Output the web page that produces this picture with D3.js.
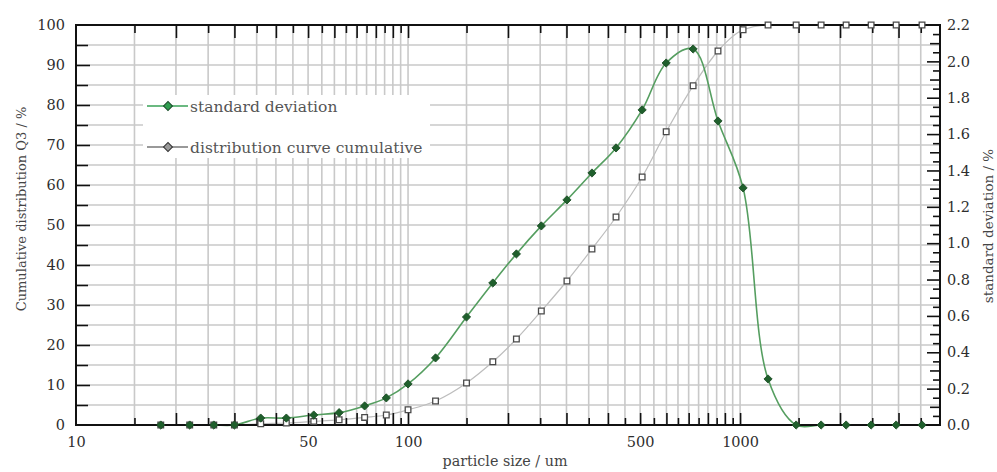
<!DOCTYPE html>
<html>
<head>
<meta charset="utf-8">
<script src="https://cdn.jsdelivr.net/npm/d3@7"></script>
<style>
  html, body { margin: 0; padding: 0; background: #fff; }
  svg { display: block; }
  text { font-family: "DejaVu Serif", serif; }
</style>
</head>
<body>
<svg id="chart" width="997" height="472"></svg>
<script>
// ---------------- data ----------------
const particleSizes = [18, 22, 26, 30, 36, 43, 52, 62, 74, 86, 100, 121, 150, 180, 212, 252, 301, 358, 423, 507, 599, 722, 858, 1021, 1214, 1475, 1754, 2086, 2481, 2951, 3531];
const standardDeviation = [0, 0, 0, 0, 0.038, 0.038, 0.055, 0.068, 0.105, 0.149, 0.226, 0.369, 0.594, 0.781, 0.941, 1.095, 1.238, 1.386, 1.524, 1.733, 1.991, 2.068, 1.672, 1.304, 0.253, 0, 0, 0, 0, 0, 0];
const cumulativeQ3 = [0, 0, 0, 0, 0.3, 0.5, 0.9, 1.3, 1.9, 2.5, 3.8, 6.0, 10.5, 15.8, 21.5, 28.5, 36, 44, 52, 62, 73.3, 84.8, 93.5, 98.8, 100, 100, 100, 100, 100, 100, 100];

const xTickLabels = [10, 50, 100, 500, 1000];
const xGridValues = [15, 20, 25, 30, 35, 40, 45, 50, 55, 60, 65, 70, 75, 80, 85, 90, 95, 100,
  150, 200, 250, 300, 350, 400, 450, 500, 550, 600, 650, 700, 750, 800, 850, 900, 950, 1000,
  1500, 2000, 2500, 3000, 3500];
const yLeftTicks = [0, 5, 10, 15, 20, 25, 30, 35, 40, 45, 50, 55, 60, 65, 70, 75, 80, 85, 90, 95, 100];
const yRightTicks = d3.range(0, 45).map(i => +(i * 0.05).toFixed(2));

const legendLabels = ["standard deviation", "distribution curve cumulative"];
const axisTitles = { x: "particle size / um", yLeft: "Cumulative distribution Q3 / %", yRight: "standard deviation / %" };

// ---------------- layout ----------------
const plotL = 76, plotR = 940, plotT = 25, plotB = 425;
const svg = d3.select("#chart");

const x = d3.scaleLog().domain([10, 4000]).range([plotL, plotR]);
const yL = d3.scaleLinear().domain([0, 100]).range([plotB, plotT]);
const yR = d3.scaleLinear().domain([0, 2.2]).range([plotB, plotT]);

const gridColor = "#c9c9c9";

// gridlines
svg.append("g").selectAll("line").data(xGridValues).join("line")
  .attr("x1", d => x(d)).attr("x2", d => x(d))
  .attr("y1", plotT).attr("y2", plotB)
  .attr("stroke", gridColor).attr("stroke-width", 1.6);
svg.append("g").selectAll("line").data(yLeftTicks.filter(d => d > 0 && d < 100)).join("line")
  .attr("x1", plotL).attr("x2", plotR)
  .attr("y1", d => yL(d)).attr("y2", d => yL(d))
  .attr("stroke", gridColor).attr("stroke-width", 1.6);

// legend background (hides gridlines)
svg.append("rect").attr("x", 143).attr("y", 95).attr("width", 287).attr("height", 63).attr("fill", "#fff");

// ---------------- curves ----------------
const cumData = particleSizes.map((s, i) => ({ s, v: cumulativeQ3[i] }));
const sdData = particleSizes.map((s, i) => ({ s, v: standardDeviation[i] }));

const cumLine = d3.line().x(d => x(d.s)).y(d => yL(d.v)).curve(d3.curveMonotoneX);
const sdLine = d3.line().x(d => x(d.s)).y(d => Math.min(yR(d.v), plotB)).curve(d3.curveCatmullRom.alpha(0.5));

svg.append("path").datum(cumData.concat([{ s: 4000, v: 100 }]).filter(d => d.s >= 30))
  .attr("d", cumLine).attr("fill", "none").attr("stroke", "#bdbdbd").attr("stroke-width", 1.2);
svg.append("path").datum(sdData)
  .attr("d", sdLine).attr("fill", "none").attr("stroke", "#559e60").attr("stroke-width", 1.6);

// ---------------- frame & axes ----------------
const isMajorX = d => { const p = Math.pow(10, Math.floor(Math.log10(d) + 1e-9)); return Math.abs(d / p - Math.round(d / p)) < 1e-6; };

const xAxisB = d3.axisBottom(x).tickValues(xGridValues.concat([10]))
  .tickSize(0).tickSizeOuter(0).tickPadding(12)
  .tickFormat(d => xTickLabels.includes(d) ? String(d) : "");
const gB = svg.append("g").attr("transform", `translate(0,${plotB})`).call(xAxisB);
gB.selectAll(".tick line").attr("y2", d => d === 10 ? 0 : (isMajorX(d) ? -12 : -7));

const xAxisT = d3.axisTop(x).tickValues(xGridValues).tickSize(0).tickSizeOuter(0).tickFormat("");
const gT = svg.append("g").attr("transform", `translate(0,${plotT})`).call(xAxisT);
gT.selectAll(".tick line").attr("y2", d => isMajorX(d) ? 13 : 8);

const yAxisL = d3.axisLeft(yL).tickValues(yLeftTicks).tickSize(0).tickSizeOuter(0).tickPadding(11)
  .tickFormat(d => d % 10 === 0 ? String(d) : "");
const gL = svg.append("g").attr("transform", `translate(${plotL},0)`).call(yAxisL);
gL.selectAll(".tick line").attr("x2", d => (d === 0 || d === 100) ? 0 : (d % 10 === 0 ? 14 : 12));

const isMult = (d, m) => Math.abs(d / m - Math.round(d / m)) < 1e-6;
const yAxisR = d3.axisRight(yR).tickValues(yRightTicks).tickSize(0).tickSizeOuter(0).tickPadding(7)
  .tickFormat(d => isMult(d, 0.2) ? d3.format(".1f")(d) : "");
const gR = svg.append("g").attr("transform", `translate(${plotR},0)`).call(yAxisR);
gR.selectAll(".tick line").attr("x2", d => (d === 0 || d === 2.2) ? 0 : (isMult(d, 0.2) ? -13 : (isMult(d, 0.1) ? -10 : -7)));

[gB, gT, gL, gR].forEach(g => {
  g.select(".domain").remove();
  g.selectAll(".tick line").attr("stroke", "#111").attr("stroke-width", 1.6);
  g.selectAll(".tick text").attr("fill", "#2e2e2e").style("font-family", "DejaVu Serif, serif").style("font-size", "14.5px");
});

svg.append("rect").attr("x", plotL).attr("y", plotT).attr("width", plotR - plotL).attr("height", plotB - plotT)
  .attr("fill", "none").attr("stroke", "#111").attr("stroke-width", 2);

// ---------------- markers ----------------
const diamond = d3.symbol(d3.symbolSquare, 34);
const square = d3.symbol(d3.symbolSquare, 32);

svg.append("g").selectAll("path").data(cumData).join("path")
  .attr("d", square)
  .attr("transform", d => `translate(${x(d.s)},${yL(d.v)})`)
  .attr("fill", "#fff").attr("stroke", "#4a4a4a").attr("stroke-width", 1.3);

svg.append("g").selectAll("path").data(sdData).join("path")
  .attr("d", diamond)
  .attr("transform", d => `translate(${x(d.s)},${yR(d.v)}) rotate(45)`)
  .attr("fill", "#1f5f2c").attr("stroke", "#1a4a24").attr("stroke-width", 0.8);

// ---------------- legend ----------------
const legendItems = [
  { label: legendLabels[0], y: 106, line: "#3aa257", fill: "#2f9e4f", stroke: "#1b4d2b" },
  { label: legendLabels[1], y: 147, line: "#777", fill: "#9a9a9a", stroke: "#333" }
];
const lg = svg.append("g");
legendItems.forEach(it => {
  lg.append("line").attr("x1", 147).attr("x2", 188).attr("y1", it.y).attr("y2", it.y)
    .attr("stroke", it.line).attr("stroke-width", 1.6);
  lg.append("path").attr("d", d3.symbol(d3.symbolSquare, 40))
    .attr("transform", `translate(168,${it.y}) rotate(45)`)
    .attr("fill", it.fill).attr("stroke", it.stroke).attr("stroke-width", 1);
  lg.append("text").attr("x", 190).attr("y", it.y + 1).attr("dominant-baseline", "central")
    .attr("fill", "#555").style("font-size", "15.5px").text(it.label);
});

// ---------------- axis titles ----------------
svg.append("text").attr("transform", "translate(21,209) rotate(-90)")
  .attr("text-anchor", "middle").attr("dominant-baseline", "central")
  .attr("fill", "#444").style("font-size", "13px").text(axisTitles.yLeft);
svg.append("text").attr("transform", "translate(988,226) rotate(-90)")
  .attr("text-anchor", "middle").attr("dominant-baseline", "central")
  .attr("fill", "#444").style("font-size", "13.5px").text(axisTitles.yRight);
svg.append("text").attr("x", 505).attr("y", 466).attr("text-anchor", "middle")
  .attr("fill", "#444").style("font-size", "14.3px").text(axisTitles.x);
</script>
</body>
</html>
